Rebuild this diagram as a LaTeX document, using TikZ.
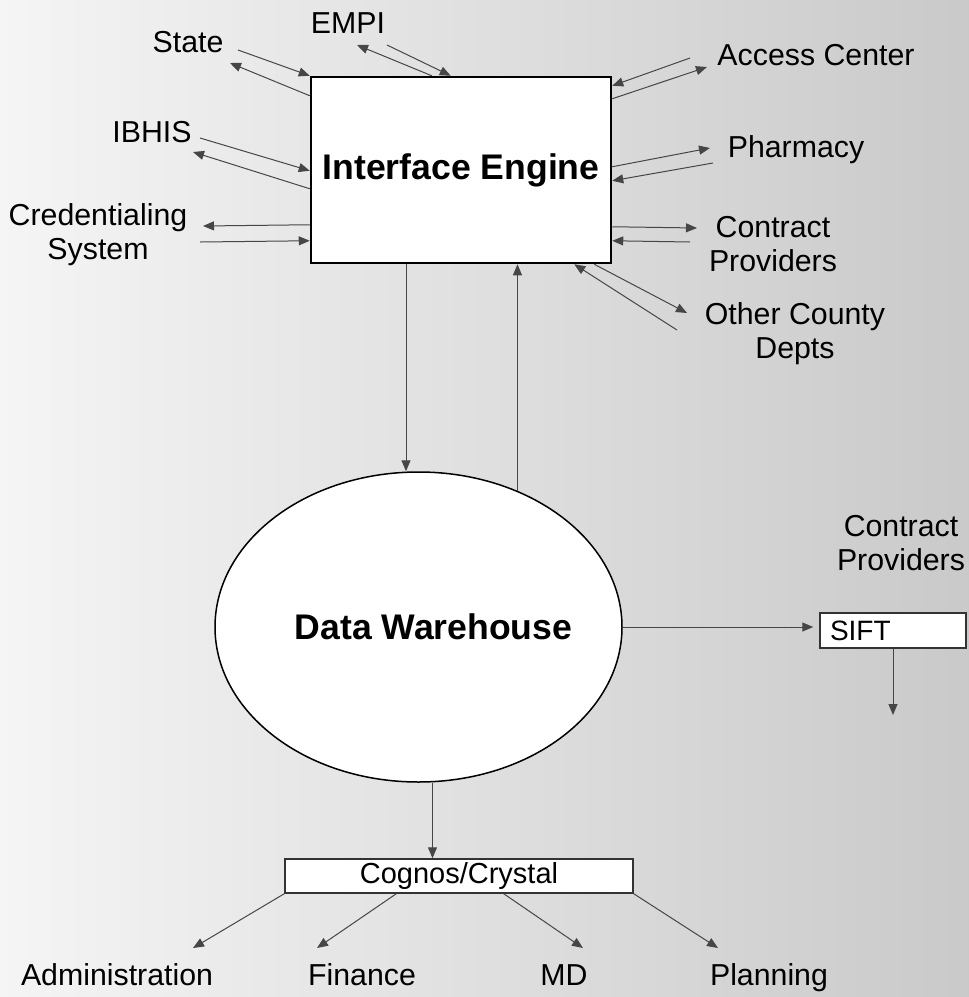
\documentclass[tikz,border=0pt]{standalone}
\usepackage{fontspec}
\setmainfont{Liberation Sans}
\usetikzlibrary{
	arrows.meta,
	calc,
	shapes.geometric,
}

\begin{document}
\begin{tikzpicture}[x=1pt, y=-1pt,
		lbl/.style={font=\fontsize{30.3}{34}\selectfont, inner sep=0pt},
		flow/.style={draw=gray!55!black, line width=1pt, -{Triangle[length=11pt, width=9pt]}},
		title/.style={font=\fontsize{35.6}{40}\selectfont\bfseries},
		smallbox/.style={draw=gray!40!black, line width=1.5pt, fill=white}]
	\useasboundingbox (0,0) rectangle (969,997);
	\shade[left color=gray!8, right color=gray!42] (0,0) rectangle (969,997);
	\node[draw, line width=2.5pt, fill=white, minimum width=300pt, minimum height=186pt, title] (ie) at (461,170) {Interface Engine};
	\node[draw, ellipse, line width=1.5pt, fill=white, minimum width=407pt, minimum height=310pt, inner sep=0pt, title] (dw) at (418.5,627) {\makebox[280pt][c]{\hspace*{30pt}Data Warehouse}};
	\node[smallbox, minimum width=348pt, minimum height=34pt, inner sep=0pt, font=\fontsize{29}{32}\selectfont] (cog) at (459,876) {Cognos/Crystal};
	\node[smallbox, text width=126pt, inner xsep=10pt, inner ysep=0pt, minimum height=35pt, align=left, font=\fontsize{28}{32}\selectfont] (sift) at (893,630.5) {SIFT};

	\node[lbl, anchor=base] (state) at (188,52) {State};
	\node[lbl, anchor=base] (empi) at (348,33) {EMPI};
	\node[lbl, anchor=base] (access) at (816,65) {Access Center};
	\node[lbl, anchor=base] (ibhis) at (152,142) {IBHIS};
	\node[lbl, align=center] (cred) at (98,235) {Credentialing\\System};
	\node[lbl, anchor=base] (pharm) at (796,157) {Pharmacy};
	\node[lbl, align=center] (contr) at (773,244) {Contract\\Providers};
	\node[lbl, align=center] (other) at (795,334) {Other County\\Depts};
	\node[lbl, align=center] (siftsrc) at (901,543) {Contract\\Providers};
	\node[lbl, anchor=base] (admin) at (117,985) {Administration};
	\node[lbl, anchor=base] (fin) at (362,985) {Finance};
	\node[lbl, anchor=base] (md) at (564,985) {MD};
	\node[lbl, anchor=base] (plan) at (769,985) {Planning};

	\coordinate (st1) at (238,50);
	\coordinate (st2) at (230,63);
	\coordinate (em1) at (357,45);
	\coordinate (em2) at (387,45);
	\coordinate (ac1) at (690,58);
	\coordinate (ac2) at (707,67);
	\coordinate (ib1) at (200,138);
	\coordinate (ib2) at (193,152);
	\coordinate (cr1) at (203,226);
	\coordinate (cr2) at (200,242);
	\coordinate (ph1) at (710,148);
	\coordinate (ph2) at (713,163);
	\coordinate (co1) at (697,228);
	\coordinate (co2) at (690,242);
	\coordinate (ot1) at (687,313);
	\coordinate (ot2) at (677,330);
	\coordinate (sd) at (893,715);
	\coordinate (ad) at (193,948);
	\coordinate (fi) at (317,948);
	\coordinate (mdt) at (583,948);
	\coordinate (pl) at (718,948);

	\draw[flow] (st1) -- (ie.north west);
	\draw[flow] ([yshift=-20pt]ie.north west) -- (st2);
	\draw[flow] ([xshift=122pt]ie.north west) -- (em1);
	\draw[flow] (em2) -- ([xshift=141pt]ie.north west);
	\draw[flow] (ac1) -- ([yshift=-10pt]ie.north east);
	\draw[flow] ([yshift=-23pt]ie.north east) -- (ac2);
	\draw[flow] (ib1) -- ([yshift=-95pt]ie.north west);
	\draw[flow] ([yshift=-113pt]ie.north west) -- (ib2);
	\draw[flow] ([yshift=-149pt]ie.north west) -- (cr1);
	\draw[flow] (cr2) -- ([yshift=-165pt]ie.north west);
	\draw[flow] ([yshift=-91pt]ie.north east) -- (ph1);
	\draw[flow] (ph2) -- ([yshift=-105pt]ie.north east);
	\draw[flow] ([yshift=-151pt]ie.north east) -- (co1);
	\draw[flow] (co2) -- ([yshift=-165pt]ie.north east);
	\draw[flow] ([xshift=-18pt]ie.south east) -- (ot1);
	\draw[flow] (ot2) -- ([xshift=-38pt]ie.south east);
	\draw[flow] ([xshift=-55pt]ie.south) -- ([xshift=-55pt]ie.south |- dw.north);
	\draw[flow] (dw.54.7) -- (dw.54.7 |- ie.south);
	\draw[flow] ([xshift=14pt]dw.south) -- ([xshift=14pt]dw.south |- cog.north);
	\draw[flow, shorten >=6pt] (dw.east) -- (dw.east -| sift.west);
	\draw[flow] (sift.south) -- (sd);
	\draw[flow] (cog.south west) -- (ad);
	\draw[flow] ([xshift=112pt]cog.south west) -- (fi);
	\draw[flow] ([xshift=-130pt]cog.south east) -- (mdt);
	\draw[flow] (cog.south east) -- (pl);
\end{tikzpicture}
\end{document}
